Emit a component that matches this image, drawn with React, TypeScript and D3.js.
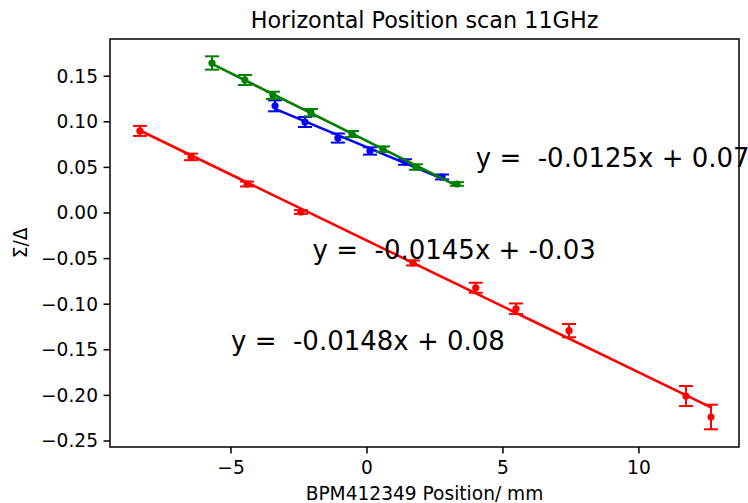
import React from "react";
import * as d3 from "d3";

// ---- data ----
const greenX = [-5.7, -4.49, -3.46, -2.06, -0.55, 0.59, 1.8, 3.31];
const greenY = [0.1645, 0.1458, 0.129, 0.11, 0.0866, 0.07, 0.0504, 0.0318];
const greenErr = [0.0073, 0.0055, 0.004, 0.004, 0.0033, 0.003, 0.003, 0.002];

const blueX = [-3.38, -2.28, -1.07, 0.11, 1.4, 2.76];
const blueY = [0.1175, 0.0998, 0.0822, 0.068, 0.0559, 0.0395];
const blueErr = [0.006, 0.0055, 0.005, 0.004, 0.003, 0.0027];

const redX = [-8.35, -6.47, -4.41, -2.43, 1.69, 4.0, 5.48, 7.43, 11.73, 12.65];
const redY = [0.09, 0.0615, 0.0318, 0.0011, -0.0548, -0.082, -0.105, -0.129, -0.2007, -0.2237];
const redErr = [0.0055, 0.0036, 0.0027, 0.002, 0.0027, 0.0055, 0.0058, 0.0073, 0.011, 0.0135];

const xTicks = [-5, 0, 5, 10];
const yTicks = [-0.25, -0.2, -0.15, -0.1, -0.05, 0.0, 0.05, 0.1, 0.15];

const annotationTexts = ["y =  -0.0125x + 0.07", "y =  -0.0145x + -0.03", "y =  -0.0148x + 0.08"];
const annotationX = [4, -2, -5];
const annotationY = [0.05, -0.05, -0.15];

const titleText = "Horizontal Position scan 11GHz";
const xLabel = "BPM412349 Position/ mm";
const yLabel = "Σ/Δ";

// ---- layout ----
const W = 748;
const H = 503;
const left = 110;
const right = 739;
const top = 39;
const bottom = 447;
const FONT = "DejaVu Sans, sans-serif";

function fit(xs: number[], ys: number[]) {
  const mx = d3.mean(xs)!;
  const my = d3.mean(ys)!;
  let num = 0;
  let den = 0;
  xs.forEach((x, i) => {
    num += (x - mx) * (ys[i] - my);
    den += (x - mx) * (x - mx);
  });
  const m = num / den;
  return { m, b: my - m * mx };
}

export default function App() {
  const x = d3.scaleLinear().domain([-9.45, 13.68]).range([left, right]);
  const y = d3.scaleLinear().domain([-0.2566, 0.1908]).range([bottom, top]);

  const series = [
    { xs: redX, ys: redY, es: redErr, color: "#ff0000" },
    { xs: blueX, ys: blueY, es: blueErr, color: "#0000ff" },
    { xs: greenX, ys: greenY, es: greenErr, color: "#008000" },
  ];

  const line = d3
    .line<[number, number]>()
    .x((d) => x(d[0]))
    .y((d) => y(d[1]));

  const fmtY = (v: number) => d3.format(".2f")(v).replace("-", "−");
  const fmtX = (v: number) => String(v).replace("-", "−");

  return (
    <svg
      width={W}
      height={H}
      style={{ position: "absolute", left: 0, top: 0, background: "#fff" }}
      fontFamily={FONT}
    >
      <rect x={0} y={0} width={W} height={H} fill="#fff" />
      <defs>
        <clipPath id="plotclip">
          <rect x={left} y={top} width={right - left} height={bottom - top} />
        </clipPath>
      </defs>

      <g clipPath="url(#plotclip)">
        {series.map((s, si) => {
          const f = fit(s.xs, s.ys);
          const x0 = d3.min(s.xs)!;
          const x1 = d3.max(s.xs)!;
          return (
            <g key={si}>
              {s.xs.map((xv, i) => {
                const cx = x(xv);
                const yt = y(s.ys[i] + s.es[i]);
                const yb = y(s.ys[i] - s.es[i]);
                return (
                  <g key={i} stroke={s.color} strokeWidth={2}>
                    <line x1={cx} x2={cx} y1={yt} y2={yb} />
                    <line x1={cx - 7} x2={cx + 7} y1={yt} y2={yt} />
                    <line x1={cx - 7} x2={cx + 7} y1={yb} y2={yb} />
                  </g>
                );
              })}
              {s.xs.map((xv, i) => (
                <circle key={"m" + i} cx={x(xv)} cy={y(s.ys[i])} r={3.6} fill={s.color} />
              ))}
              <path
                d={line([
                  [x0, f.m * x0 + f.b],
                  [x1, f.m * x1 + f.b],
                ])!}
                stroke={s.color}
                strokeWidth={2.6}
                fill="none"
              />
            </g>
          );
        })}
      </g>

      {/* spines */}
      <rect
        x={left}
        y={top}
        width={right - left}
        height={bottom - top}
        fill="none"
        stroke="#000"
        strokeWidth={1.5}
      />

      {/* y ticks */}
      {yTicks.map((t) => (
        <g key={"y" + t}>
          <line x1={left - 6.5} x2={left} y1={y(t)} y2={y(t)} stroke="#000" strokeWidth={1.5} />
          <text
            x={left - 12}
            y={y(t)}
            textAnchor="end"
            dominantBaseline="central"
            fontSize={18.6}
            fill="#000"
          >
            {fmtY(t)}
          </text>
        </g>
      ))}

      {/* x ticks */}
      {xTicks.map((t) => (
        <g key={"x" + t}>
          <line x1={x(t)} x2={x(t)} y1={bottom} y2={bottom + 6.5} stroke="#000" strokeWidth={1.5} />
          <text x={x(t)} y={bottom + 27} textAnchor="middle" fontSize={18.6} fill="#000">
            {fmtX(t)}
          </text>
        </g>
      ))}

      {/* annotations */}
      {annotationTexts.map((txt, i) => (
        <text
          key={"a" + i}
          x={x(annotationX[i])}
          y={y(annotationY[i])}
          fontSize={26}
          fill="#000"
          style={{ whiteSpace: "pre" }}
        >
          {txt}
        </text>
      ))}

      {/* title and labels */}
      <text x={(left + right) / 2} y={28} textAnchor="middle" fontSize={22.3} fill="#000">
        {titleText}
      </text>
      <text x={(left + right) / 2} y={500} textAnchor="middle" fontSize={18.6} fill="#000">
        {xLabel}
      </text>
      <text
        transform={`translate(27, ${(top + bottom) / 2}) rotate(-90)`}
        textAnchor="middle"
        fontSize={18.6}
        fill="#000"
      >
        {yLabel}
      </text>
    </svg>
  );
}
